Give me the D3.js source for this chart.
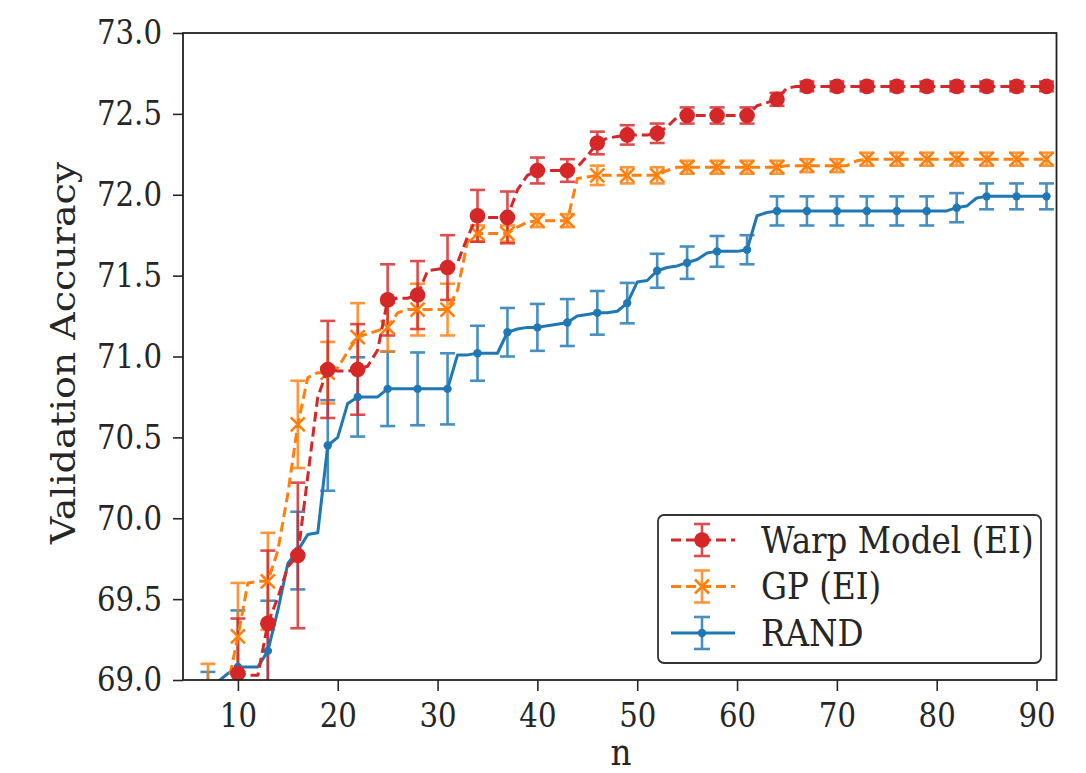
<!DOCTYPE html>
<html><head><meta charset="utf-8">
<script src="https://cdn.jsdelivr.net/npm/d3@7"></script>
<style>
body{margin:0;background:#fff;}
svg{display:block;font-family:"DejaVu Serif",serif;}
</style>
</head><body>
<svg id="chart" width="1086" height="773"></svg>
<script>
// ---------- data ----------
const nSteps = [7,8,9,10,11,12,13,14,15,16,17,18,19,20,21,22,23,24,25,26,27,28,29,30,31,32,33,34,35,36,37,38,39,40,41,42,43,44,45,46,47,48,49,50,51,52,53,54,55,56,57,58,59,60,61,62,63,64,65,66,67,68,69,70,71,72,73,74,75,76,77,78,79,80,81,82,83,84,85,86,87,88,89,90,91];

const warpMean = [68.6,68.75,68.9,69.04,69.03,69.03,69.35,69.51,69.7,69.77,70.26,70.75,70.92,70.91,70.91,70.92,70.94,71.04,71.35,71.36,71.36,71.38,71.53,71.54,71.55,71.58,71.74,71.87,71.86,71.86,71.86,72.03,72.12,72.15,72.15,72.15,72.15,72.17,72.24,72.32,72.35,72.36,72.37,72.37,72.37,72.38,72.42,72.48,72.49,72.49,72.49,72.49,72.49,72.49,72.49,72.55,72.57,72.59,72.66,72.67,
72.67,72.67,72.67,72.67,72.67,72.67,72.67,72.67,72.67,72.67,72.67,72.67,72.67,72.67,72.67,72.67,72.67,72.67,72.67,72.67,72.67,72.67,72.67,72.67,72.67];

const gpMean = [68.8,68.85,68.97,69.27,69.6,69.61,69.61,69.8,70.15,70.58,70.87,70.9,70.9,70.93,71.03,71.12,71.14,71.16,71.18,71.27,71.29,71.29,71.29,71.29,71.29,71.41,71.71,71.76,71.76,71.76,71.76,71.8,71.83,71.84,71.84,71.84,71.84,72.1,72.11,72.12,72.12,72.12,72.12,72.12,72.12,72.12,72.15,72.17,
72.17,72.17,72.17,72.17,72.17,72.17,72.17,72.17,72.17,72.17,72.18,72.18,72.18,72.18,72.18,72.18,
72.18,72.21,
72.22,72.22,72.22,72.22,72.22,72.22,72.22,72.22,72.22,72.22,72.22,72.22,72.22,72.22,72.22,72.22,72.22,72.22,72.22];

const randMean = [68.7,68.99,69.04,69.08,69.08,69.08,69.18,69.43,69.72,69.8,69.9,69.91,70.45,70.5,70.71,70.75,70.75,70.75,70.8,70.8,70.8,70.8,70.8,70.8,70.8,71.01,71.01,71.02,71.02,71.02,71.15,71.17,71.18,71.18,71.19,71.2,71.21,71.25,71.26,71.27,71.27,71.28,71.33,71.46,71.47,71.53,71.55,71.56,71.58,71.6,71.64,71.65,71.65,71.65,71.66,71.87,71.89,71.9,
71.9,71.9,71.9,71.9,71.9,71.9,71.9,71.9,71.9,71.9,71.9,71.9,71.9,71.9,71.9,71.9,71.9,
71.92,71.93,71.98,
71.99,71.99,71.99,71.99,71.99,71.99,71.99];

// error bars are drawn every third step
const errSteps = [7,10,13,16,19,22,25,28,31,34,37,40,43,46,49,52,55,58,61,64,67,70,73,76,79,82,85,88,91];
const warpErr = [0.3,0.34,0.45,0.45,0.3,0.28,0.22,0.21,0.2,0.16,0.16,0.08,0.07,0.07,0.06,0.06,0.05,0.05,0.05,0.04,0.03,0.03,0.03,0.03,0.03,0.03,0.03,0.03,0.03];
const gpErr = [0.3,0.33,0.3,0.27,0.19,0.21,0.15,0.16,0.16,0.05,0.05,0.04,0.04,0.06,0.05,0.05,0.04,0.04,0.04,0.04,0.04,0.04,0.04,0.04,0.04,0.04,0.04,0.04,0.04];
const randErr = [0.35,0.35,0.31,0.24,0.28,0.245,0.23,0.225,0.22,0.17,0.15,0.145,0.145,0.135,0.125,0.105,0.1,0.095,0.09,0.09,0.09,0.09,0.09,0.09,0.09,0.09,0.08,0.08,0.08];

const seriesNames = ["Warp Model (EI)", "GP (EI)", "RAND"];
const xTicks = [10,20,30,40,50,60,70,80,90];
const yTicks = [69.0,69.5,70.0,70.5,71.0,71.5,72.0,72.5,73.0];
const xLabel = "n";
const yLabel = "Validation Accuracy";

// ---------- setup ----------
const svg = d3.select("#chart");
const L = 183, R = 1056.5, T = 33, B = 680;
const x = d3.scaleLinear().domain([4.5, 92]).range([L, R]);
const y = d3.scaleLinear().domain([69, 73]).range([B, T]);
const SX = 0.86; // horizontal squeeze of the reference lettering

const series = [
  {name: seriesNames[0], mean: warpMean, err: warpErr, color: "#d62728", dash: "10,5", marker: "circle"},
  {name: seriesNames[1], mean: gpMean, err: gpErr, color: "#ff7f0e", dash: "10,5", marker: "x"},
  {name: seriesNames[2], mean: randMean, err: randErr, color: "#1f77b4", dash: null, marker: "dot"}
];
// drawing order: RAND below, Warp on top
const drawOrder = series.slice().reverse();

svg.append("defs").append("clipPath").attr("id", "clip")
  .append("rect").attr("x", L).attr("y", T).attr("width", R - L).attr("height", B - T);

const plot = svg.append("g").attr("clip-path", "url(#clip)");

function drawErr(g, s, cx, cy, lo, hi, cap) {
  g.append("line").attr("x1", cx).attr("x2", cx).attr("y1", lo).attr("y2", hi)
    .attr("stroke", s.color).attr("stroke-width", 2.6);
  [lo, hi].forEach(v => g.append("line").attr("x1", cx - cap).attr("x2", cx + cap)
    .attr("y1", v).attr("y2", v).attr("stroke", s.color).attr("stroke-width", 2.6));
}
function drawMarker(g, s, cx, cy) {
  if (s.marker === "circle") {
    g.append("circle").attr("cx", cx).attr("cy", cy).attr("r", 7.8).attr("fill", s.color);
  } else if (s.marker === "x") {
    const h = 7;
    g.append("path").attr("d", `M${cx-h},${cy-h}L${cx+h},${cy+h}M${cx-h},${cy+h}L${cx+h},${cy-h}`)
      .attr("stroke", s.color).attr("stroke-width", 2.6).attr("fill", "none");
  } else {
    g.append("circle").attr("cx", cx).attr("cy", cy).attr("r", 4.2).attr("fill", s.color);
  }
}

// error bars first, then lines + markers
drawOrder.forEach(s => {
  const g = plot.append("g").attr("opacity", 0.82);
  errSteps.forEach((n, i) => {
    const m = s.mean[nSteps.indexOf(n)];
    drawErr(g, s, x(n), y(m), y(m - s.err[i]), y(m + s.err[i]), 7.5);
  });
});
drawOrder.forEach(s => {
  const g = plot.append("g");
  const line = d3.line().x((d, i) => x(nSteps[i])).y(d => y(d));
  g.append("path").datum(s.mean).attr("d", line).attr("fill", "none")
    .attr("stroke", s.color).attr("stroke-width", 3)
    .attr("stroke-dasharray", s.dash).attr("stroke-linejoin", "round");
  errSteps.forEach(n => {
    const m = s.mean[nSteps.indexOf(n)];
    drawMarker(g, s, x(n), y(m));
  });
});

// ---------- axes ----------
const tickColor = "#262626";
const gx = svg.append("g").attr("transform", `translate(0,${B})`)
  .call(d3.axisBottom(x).tickValues(xTicks).tickSize(11).tickPadding(12).tickFormat(d3.format("d")));
const gy = svg.append("g").attr("transform", `translate(${L},0)`)
  .call(d3.axisLeft(y).tickValues(yTicks).tickSize(10).tickPadding(11).tickFormat(d3.format(".1f")));
[gx, gy].forEach(g => {
  g.select(".domain").remove();
  g.selectAll(".tick line").attr("stroke", tickColor).attr("stroke-width", 1.6);
  g.selectAll(".tick text").attr("fill", tickColor).attr("font-size", 34)
    .attr("font-family", "DejaVu Serif");
});
gx.selectAll(".tick text").attr("transform", `scale(${SX},1)`);
gy.selectAll(".tick text").each(function() {
  const t = d3.select(this);
  const tx = +t.attr("x");
  t.attr("x", 0).attr("transform", `translate(${tx},0) scale(${SX},1)`);
});

// frame
svg.append("rect").attr("x", L).attr("y", T).attr("width", R - L).attr("height", B - T)
  .attr("fill", "none").attr("stroke", "#222").attr("stroke-width", 1.8);

// axis labels
svg.append("text").attr("transform", `translate(621,765) scale(${SX},1)`)
  .attr("text-anchor", "middle").attr("font-size", 38).attr("fill", tickColor).text(xLabel);
svg.append("text").attr("transform", `translate(75,353) rotate(-90) scale(1,${SX})`)
  .attr("text-anchor", "middle").attr("font-size", 38).attr("fill", tickColor).text(yLabel);

// ---------- legend ----------
const lg = svg.append("g");
lg.append("rect").attr("x", 658).attr("y", 515).attr("width", 383).attr("height", 148)
  .attr("rx", 6).attr("fill", "white").attr("fill-opacity", 0.85)
  .attr("stroke", "#333").attr("stroke-width", 1.8);
const rowY = d3.scalePoint().domain(seriesNames).range([540, 633]);
series.forEach(s => {
  const cy = rowY(s.name);
  const g = lg.append("g");
  const ge = g.append("g").attr("opacity", 0.82);
  drawErr(ge, s, 702, cy, cy + 16, cy - 16, 8);
  g.append("line").attr("x1", 671).attr("x2", 735).attr("y1", cy).attr("y2", cy)
    .attr("stroke", s.color).attr("stroke-width", 3).attr("stroke-dasharray", s.dash);
  drawMarker(g, s, 702, cy);
  g.append("text").attr("transform", `translate(761,${cy}) scale(0.88,1)`)
    .attr("dy", "0.35em").attr("font-size", 37).attr("fill", tickColor).text(s.name);
});
</script>
</body></html>
